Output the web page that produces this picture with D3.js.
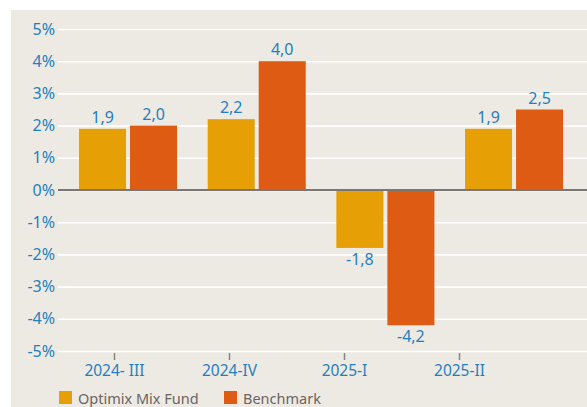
<!DOCTYPE html>
<html>
<head>
<meta charset="utf-8">
<script src="https://cdn.jsdelivr.net/npm/d3@7"></script>
<style>
  body { margin: 0; background: #fff; }
  svg { display: block; font-family: "Noto Sans", "Open Sans", sans-serif; }
</style>
</head>
<body>
<div id="chart"></div>
<script>
// data
const categories = ['2024- III', '2024-IV', '2025-I', '2025-II'];
const seriesNames = ['Optimix Mix Fund', 'Benchmark'];
const fundValues = [1.9, 2.2, -1.8, 1.9];
const benchmarkValues = [2.0, 4.0, -4.2, 2.5];
const yTicks = [5, 4, 3, 2, 1, 0, -1, -2, -3, -4, -5];

const colors = { 'Optimix Mix Fund': '#e6a005', 'Benchmark': '#de5b14' };
const width = 587;
const height = 407;
const blue = '#1f7fc0';

// comma decimals, plain hyphen for negatives
const fmt = v => d3.format('.1f')(v).replace('.', ',').replace('\u2212', '-');

const svg = d3.select('#chart').append('svg')
  .attr('width', width)
  .attr('height', height);

// panel
svg.append('rect')
  .attr('x', 11).attr('y', 10)
  .attr('width', width - 11).attr('height', height - 10)
  .attr('fill', '#edeae3');

const y = d3.scaleLinear().domain([-5, 5]).range([351, 29]);

// bars sit on their own band scale, the labels on a point scale
const x0 = d3.scaleBand().domain(categories)
  .range([63.7, 578.4]).paddingInner(0.238).paddingOuter(0.119);
const x1 = d3.scaleBand().domain(seriesNames)
  .range([0, x0.bandwidth()]).paddingInner(0.078);
const xLabel = d3.scalePoint().domain(categories).range([114, 459]);

// y axis + grid
const yAxis = svg.append('g')
  .attr('transform', 'translate(58,0)')
  .call(d3.axisLeft(y).tickValues(yTicks).tickSize(-(width - 58))
    .tickFormat(d => String(d).replace('\u2212', '-') + '%'));
yAxis.select('.domain').remove();
yAxis.selectAll('.tick line')
  .attr('stroke', '#ffffff')
  .attr('stroke-width', 1.6);
yAxis.selectAll('.tick text')
  .attr('x', -3)
  .attr('fill', blue)
  .attr('font-size', 16)
  .attr('font-family', '"Noto Sans", sans-serif');

const data = categories.map((c, i) => ({
  category: c,
  values: [
    { name: seriesNames[0], value: fundValues[i] },
    { name: seriesNames[1], value: benchmarkValues[i] }
  ]
}));

const groups = svg.selectAll('.group')
  .data(data)
  .enter().append('g')
  .attr('class', 'group')
  .attr('transform', d => 'translate(' + x0(d.category) + ',0)');

groups.selectAll('rect')
  .data(d => d.values)
  .enter().append('rect')
  .attr('x', d => x1(d.name))
  .attr('y', d => y(Math.max(0, d.value)))
  .attr('width', x1.bandwidth())
  .attr('height', d => Math.abs(y(d.value) - y(0)))
  .attr('fill', d => colors[d.name]);

groups.selectAll('.value')
  .data(d => d.values)
  .enter().append('text')
  .attr('class', 'value')
  .attr('x', d => x1(d.name) + x1.bandwidth() / 2)
  .attr('y', d => d.value >= 0 ? y(d.value) - 6 : y(d.value) + 17)
  .attr('text-anchor', 'middle')
  .attr('fill', blue)
  .attr('font-size', 16)
  .text(d => fmt(d.value));

// zero line
svg.append('line')
  .attr('x1', 58).attr('x2', width)
  .attr('y1', y(0)).attr('y2', y(0))
  .attr('stroke', '#7b7575')
  .attr('stroke-width', 2);

// x axis
const xAxis = svg.append('g')
  .attr('transform', 'translate(0,353)')
  .call(d3.axisBottom(xLabel).tickSize(7).tickPadding(5));
xAxis.select('.domain').remove();
xAxis.selectAll('.tick line')
  .attr('stroke', '#8a8484')
  .attr('stroke-width', 1.5);
xAxis.selectAll('.tick text')
  .attr('fill', blue)
  .attr('font-size', 15.5)
  .attr('font-family', '"Noto Sans", sans-serif');

// legend
const legendX = [59, 224];
const legend = svg.selectAll('.legend')
  .data(seriesNames)
  .enter().append('g')
  .attr('class', 'legend')
  .attr('transform', (d, i) => 'translate(' + legendX[i] + ',391)');
legend.append('rect')
  .attr('width', 13).attr('height', 13)
  .attr('fill', d => colors[d]);
legend.append('text')
  .attr('x', 19).attr('y', 12.5)
  .attr('fill', '#6c6464')
  .attr('font-size', 14.5)
  .text(d => d);
</script>
</body>
</html>
